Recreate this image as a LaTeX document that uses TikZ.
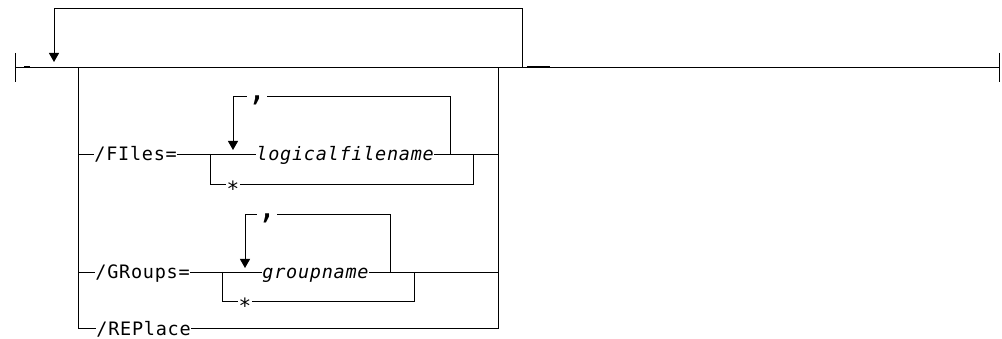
\documentclass[tikz,border=0pt]{standalone}
\usepackage{fontspec}
\newfontfamily\rrfont{DejaVu Sans Mono}[LetterSpace=4]
\usetikzlibrary{arrows.meta}

\begin{document}
\begin{tikzpicture}[x=1pt,y=-1pt,line width=0.9pt,
  kw/.style={inner sep=0pt,text height=14pt,text depth=0pt,anchor=west,font=\rrfont\fontsize{18.5}{20}\selectfont},
  var/.style={kw,font=\rrfont\itshape\fontsize{18.5}{20}\selectfont},
  opt/.style={inner sep=0pt,text height=25pt,text depth=0pt,font=\rrfont\fontsize{21}{21}\selectfont},
  sep/.style={inner sep=0pt,anchor=north,font=\rrfont\fontsize{32}{32}\selectfont},
  rep/.style={-{Triangle[width=10pt,length=9pt]}}]
\useasboundingbox (0,0) rectangle (1002,339);
% main line with end bars
\coordinate (start) at (15,67);
\coordinate (stop) at (999,67);
\draw (start) -- (stop);
\draw ([yshift=14pt]start) -- ([yshift=-15pt]start);
\draw ([yshift=14pt]stop) -- ([yshift=-15pt]stop);
\draw[line width=1.2pt] (24,67) -- (30,67) (527,67) -- (550,67);
% repeat loop over the whole group
\coordinate (lpr) at (522,67);
\coordinate (lpl) at (54,62);
\draw[rep] (lpr) -- ++(0,-59) -| (lpl);
% choice box
\coordinate (cl) at (78,67);
\coordinate (cr) at (498,67);
\node[kw] (repl) at (96,328) {/REPlace};
\draw (cl) |- (repl);
\draw (repl) -| (cr);
% /FIles= row
\coordinate (f0) at (78,154);
\coordinate (fa) at (210,154);
\coordinate (fl) at (233,150);
\coordinate (fr) at (450,154);
\coordinate (ftr) at (450,96);
\coordinate (fb) at (473,154);
\coordinate (f1) at (498,154);
\node[kw] (files) at (94,154) {/FIles=};
\node[var] (lfn) at (256,154) {logicalfilename};
\node[opt] (fstar) at (233,184) {*};
\node[sep] (fc) at (257,95) {,};
\draw (f0) -- (files);
\draw (files) -- (lfn);
\draw (lfn) -- (f1);
\draw (fa) |- (fstar);
\draw (fstar) -| (fb);
\draw (fr) -- (ftr) -- (ftr -| fc.east);
\draw[rep] (ftr -| fc.west) -| (fl);
% /GRoups= row
\coordinate (g0) at (78,272);
\coordinate (ga) at (222,272);
\coordinate (gl) at (245,268);
\coordinate (gr) at (390,272);
\coordinate (gtr) at (390,214);
\coordinate (gb) at (414,272);
\coordinate (g1) at (498,272);
\node[kw] (groups) at (95,272) {/GRoups=};
\node[var] (gname) at (262,272) {groupname};
\node[opt] (gstar) at (245,301) {*};
\node[sep] (gc) at (267,213) {,};
\draw (g0) -- (groups);
\draw (groups) -- (gname);
\draw (gname) -- (g1);
\draw (ga) |- (gstar);
\draw (gstar) -| (gb);
\draw (gr) -- (gtr) -- (gtr -| gc.east);
\draw[rep] (gtr -| gc.west) -| (gl);
\end{tikzpicture}
\end{document}
